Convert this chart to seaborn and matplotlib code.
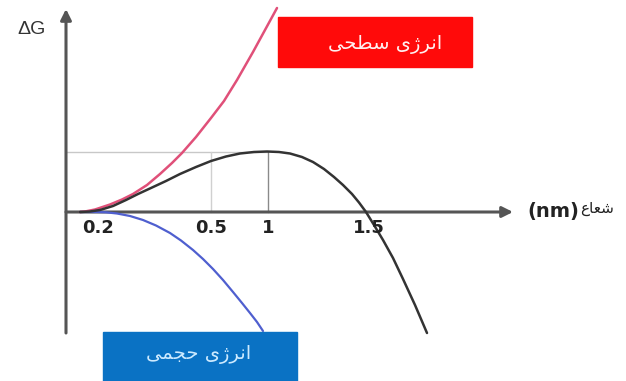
import numpy as np
import pandas as pd
import matplotlib
matplotlib.use("Agg")
import matplotlib.pyplot as plt
import seaborn as sns
from matplotlib.patches import Rectangle

# schematic nucleation curve (positions in drawing units, origin = axes crossing)
surface_x = [14, 19, 29, 44, 56, 67, 81, 94, 106, 116, 130, 145, 158, 171, 187, 199, 211]
surface_y = [0, 0.5, 2.5, 7.5, 12.5, 18, 27, 38, 49, 59, 75, 94, 111, 132, 160, 182, 204]

total_x = [14, 24, 34, 47, 60, 72, 85, 100, 114, 130, 145, 160, 174, 188, 201, 213,
           224, 236, 247, 258, 268, 277, 286, 293, 300, 308, 317, 327, 337, 349, 361]
total_y = [0, 0.5, 2, 6, 12, 18, 24, 31, 38, 45, 51, 55.5, 58.5, 60, 60.5, 60,
           58.5, 55, 50, 43, 35, 27, 18, 9.5, 0, -13, -28, -46, -67, -93, -121]

volume_x = [14, 30, 40, 51, 64, 77, 90, 104, 115, 127, 137, 147, 157, 167, 176, 184, 191, 197]
volume_y = [0, 0, -0.3, -1.5, -4, -8, -13.5, -21, -28.5, -38, -47, -57, -68, -80, -91, -101, -110, -119]

tick_pos = [32, 145, 202, 303]
tick_labels = ["0.2", "0.5", "1", "1.5"]

r_star = 202      # position of critical radius
dg_star = 60.5    # barrier height

# Persian labels, pre-shaped (presentation forms, visual order)
surface_label = "\ufbfd\ufea4\ufec4\ufeb3 \ufbfc\ufb8a\ufeae\ufee7\ufe8d"   # انرژی سطحی
volume_label = "\ufbfd\ufee4\ufea0\ufea3 \ufbfc\ufb8a\ufeae\ufee7\ufe8d"    # انرژی حجمی
radius_word = "\ufec9\ufe8e\ufecc\ufeb7"                                    # شعاع

sns.set_theme(style="white")
plt.rcParams["font.family"] = ["DejaVu Sans"]

fig = plt.figure(figsize=(6.26, 3.81), dpi=100)
ax = fig.add_axes([0, 0, 1, 1])
ax.set_xlim(-66, 560)
ax.set_ylim(-169, 212)
ax.axis("off")

# guide lines to the maximum
ax.plot([0, r_star], [dg_star, dg_star], color="#c8c8c8", lw=1.0, zorder=1)
ax.plot([tick_pos[1], tick_pos[1]], [0, dg_star], color="#d0d0d0", lw=1.0, zorder=1)
ax.plot([r_star, r_star], [0, dg_star], color="#8a8a8a", lw=1.0, zorder=1)

# axes with arrows
arrow_kw = dict(arrowstyle="-|>", lw=2.2, color="#555555", mutation_scale=16,
                shrinkA=0, shrinkB=0)
ax.annotate("", xy=(447, 0), xytext=(0, 0), arrowprops=arrow_kw, zorder=2)
ax.annotate("", xy=(0, 203), xytext=(0, -121), arrowprops=arrow_kw, zorder=2)

# curves
sns.lineplot(x=surface_x, y=surface_y, sort=False, estimator=None, ax=ax,
             color="#e05079", linewidth=1.8, zorder=3)
sns.lineplot(x=volume_x, y=volume_y, sort=False, estimator=None, ax=ax,
             color="#4f5fcf", linewidth=1.6, zorder=3)
sns.lineplot(x=total_x, y=total_y, sort=False, estimator=None, ax=ax,
             color="#333333", linewidth=1.8, zorder=4)

# tick labels
for p, lab in zip(tick_pos, tick_labels):
    ax.text(p, -16, lab, ha="center", va="center", fontsize=13,
            fontweight="bold", color="#222222", zorder=5)

# axis titles
ax.text(-34, 183, "ΔG", ha="center", va="center", fontsize=14,
        color="#333333", family=["Liberation Sans", "DejaVu Sans"])
ax.text(461, 1, "(nm)", ha="left", va="center", fontsize=14,
        fontweight="bold", color="#222222")
ax.text(514, 3, radius_word, ha="left", va="center", fontsize=11,
        color="#222222")

# labelled boxes
ax.add_patch(Rectangle((212, 145), 194, 50, color="#ff0a0a", zorder=5))
ax.text(319, 168, surface_label, ha="center", va="center", fontsize=14,
        color="#fff0f0", zorder=6)
ax.add_patch(Rectangle((37, -170), 194, 50, color="#0a72c4", zorder=5))
ax.text(133, -143, volume_label, ha="center", va="center", fontsize=14,
        color="#cdeaff", zorder=6)

fig.savefig("out.png", dpi=100)
